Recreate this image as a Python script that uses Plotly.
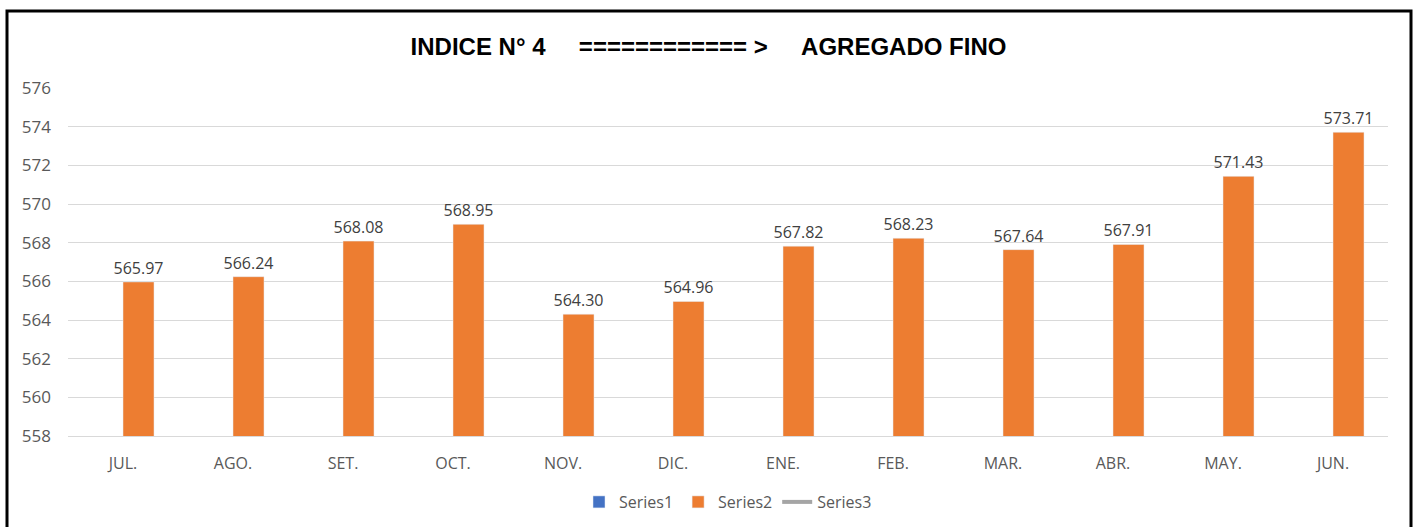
import plotly.graph_objects as go

months = ["JUL.", "AGO.", "SET.", "OCT.", "NOV.", "DIC.", "ENE.", "FEB.", "MAR.", "ABR.", "MAY.", "JUN."]
series2 = [565.97, 566.24, 568.08, 568.95, 564.30, 564.96, 567.82, 568.23, 567.64, 567.91, 571.43, 573.71]
y_ticks = [558, 560, 562, 564, 566, 568, 570, 572, 574, 576]

nb = "\u00a0"
title = "INDICE N° 4" + nb * 5 + "=" * 12 + nb + ">" + nb * 5 + "AGREGADO FINO"

fig = go.Figure()
fig.add_trace(go.Bar(x=months, y=[None] * len(months), name="Series1", marker_color="#4472C4"))
fig.add_trace(go.Bar(
    x=months, y=series2, name="Series2", marker_color="#ED7D31",
    text=[f"{v:.2f}" for v in series2], textposition="outside", constraintext="none",
    textfont=dict(size=16, color="#404040"), cliponaxis=False,
))
fig.add_trace(go.Scatter(x=months, y=[None] * len(months), name="Series3", mode="lines",
                         line=dict(color="#A5A5A5", width=4)))

L, R, T, B = 68, 29, 88, 91
W, H = 1417, 527
pw, ph = W - L - R, H - T - B

def px_x(p):
    return (p - L) / pw

def px_y(p):
    return (H - B - p) / ph

fig.update_layout(
    width=W, height=H,
    margin=dict(l=L, r=R, t=T, b=B, autoexpand=False),
    paper_bgcolor="white", plot_bgcolor="white",
    barmode="group", bargap=0.436, bargroupgap=0,
    font=dict(family="Open Sans, Calibri, sans-serif", color="#595959"),
    title=dict(text=f"<b>{title}</b>", x=0.5, xanchor="center", y=1 - 47 / H, yanchor="middle",
               font=dict(family="Liberation Sans Narrow, Arial Narrow, Liberation Sans, sans-serif", size=24, color="black")),
    xaxis=dict(showgrid=False, showline=True, linecolor="#d9d9d9", linewidth=1,
               tickfont=dict(size=16, color="#595959"), ticks="", ticklabelstandoff=13),
    yaxis=dict(range=[558, 576], tickvals=y_ticks, ticktext=[str(t) for t in y_ticks],
               showgrid=True, gridcolor="#d9d9d9", gridwidth=1, zeroline=False,
               tickfont=dict(size=17, color="#595959"), ticklabelstandoff=16),
    legend=dict(orientation="h", x=0.5, xanchor="center", y=px_y(502), yanchor="middle",
                font=dict(size=16, color="#595959"), traceorder="normal"),
    showlegend=True,
    shapes=[dict(type="rect", xref="paper", yref="paper",
                 x0=px_x(7), x1=px_x(1411), y0=px_y(540), y1=px_y(11),
                 line=dict(color="black", width=3), fillcolor="rgba(0,0,0,0)", layer="above")],
)

fig.write_html("out.html", config={"displayModeBar": False},
               post_script="document.body.style.margin='0';document.body.style.overflow='hidden';")
